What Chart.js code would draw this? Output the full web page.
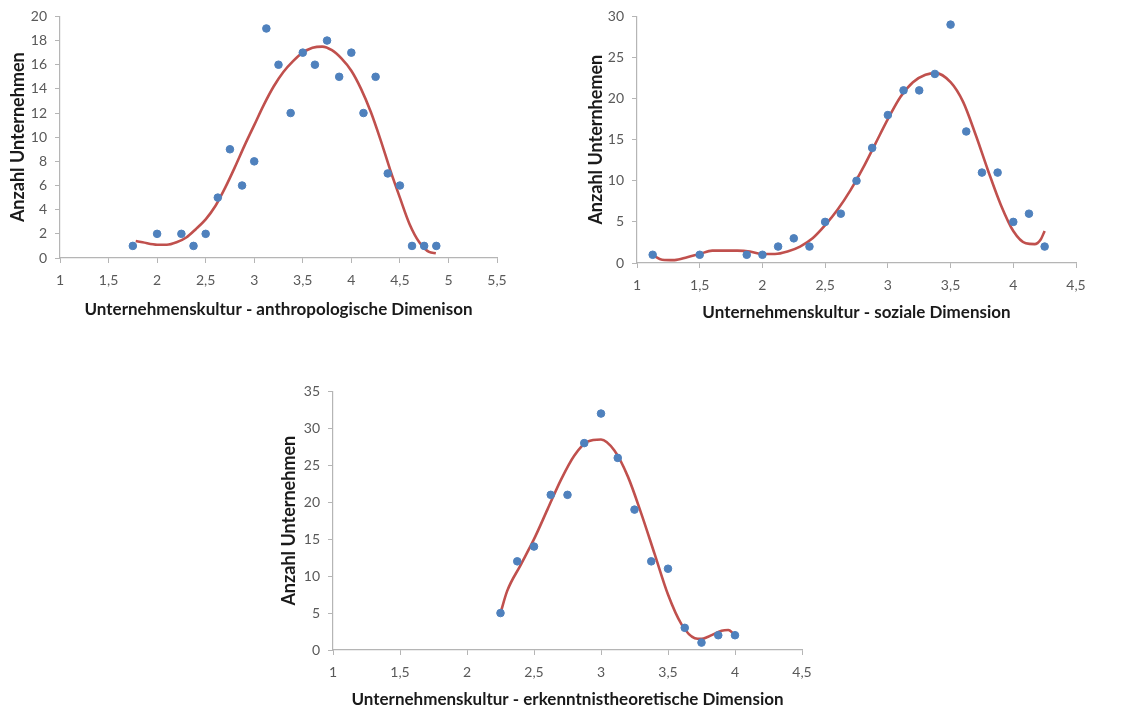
<!DOCTYPE html>
<html>
<head>
<meta charset="utf-8">
<script src="https://cdn.jsdelivr.net/npm/chart.js@4"></script>
<style>
  body { margin: 0; background: #fff; }
  #wrap { position: relative; width: 1130px; height: 711px; overflow: hidden; }
  canvas { position: absolute; }
</style>
</head>
<body>
<div id="wrap">
  <canvas id="c1" width="560" height="325" style="left:0;top:0"></canvas>
  <canvas id="c2" width="560" height="330" style="left:570px;top:0"></canvas>
  <canvas id="c3" width="560" height="336" style="left:270px;top:375px"></canvas>
</div>
<script>
// chart 1 - anthropologische Dimension
const anthroX = [1.75, 2, 2.25, 2.375, 2.5, 2.625, 2.75, 2.875, 3, 3.125, 3.25, 3.375, 3.5, 3.625, 3.75, 3.875, 4, 4.125, 4.25, 4.375, 4.5, 4.625, 4.75, 4.875];
const anthroY = [1, 2, 2, 1, 2, 5, 9, 6, 8, 19, 16, 12, 17, 16, 18, 15, 17, 12, 15, 7, 6, 1, 1, 1];
const anthroTrendX = [1.78, 1.85, 2.0, 2.1, 2.2, 2.3, 2.4, 2.5, 2.6, 2.7, 2.8, 2.9, 3.0, 3.1, 3.2, 3.3, 3.4, 3.5, 3.6, 3.7, 3.8, 3.9, 4.0, 4.1, 4.2, 4.3, 4.4, 4.5, 4.6, 4.7, 4.8, 4.87];
const anthroTrendY = [1.4, 1.3, 1.1, 1.1, 1.3, 1.7, 2.4, 3.2, 4.3, 5.8, 7.5, 9.3, 11.0, 12.7, 14.2, 15.4, 16.3, 17.0, 17.4, 17.5, 17.2, 16.5, 15.5, 14.0, 12.1, 9.8, 7.3, 5.0, 2.8, 1.3, 0.5, 0.4];

// chart 2 - soziale Dimension
const sozialX = [1.125, 1.5, 1.875, 2, 2.125, 2.25, 2.375, 2.5, 2.625, 2.75, 2.875, 3, 3.125, 3.25, 3.375, 3.5, 3.625, 3.75, 3.875, 4, 4.125, 4.25];
const sozialY = [1, 1, 1, 1, 2, 3, 2, 5, 6, 10, 14, 18, 21, 21, 23, 29, 16, 11, 11, 5, 6, 2];
const sozialTrendX = [1.13, 1.2, 1.3, 1.4, 1.5, 1.6, 1.7, 1.8, 1.9, 2.0, 2.1, 2.2, 2.3, 2.4, 2.5, 2.6, 2.7, 2.8, 2.9, 3.0, 3.1, 3.2, 3.3, 3.38, 3.5, 3.6, 3.7, 3.8, 3.9, 4.0, 4.1, 4.17, 4.22, 4.25];
const sozialTrendY = [0.9, 0.4, 0.35, 0.7, 1.1, 1.5, 1.5, 1.5, 1.4, 1.1, 1.1, 1.4, 2.0, 3.0, 4.6, 6.5, 8.8, 11.5, 14.5, 17.5, 20.2, 22.0, 22.9, 23.1, 22.0, 19.6, 15.6, 11.2, 7.1, 3.9, 2.4, 2.3, 2.9, 3.9];

// chart 3 - erkenntnistheoretische Dimension
const erkX = [2.25, 2.375, 2.5, 2.625, 2.75, 2.875, 3, 3.125, 3.25, 3.375, 3.5, 3.625, 3.75, 3.875, 4];
const erkY = [5, 12, 14, 21, 21, 28, 32, 26, 19, 12, 11, 3, 1, 2, 2];
const erkTrendX = [2.25, 2.3, 2.4, 2.5, 2.6, 2.7, 2.8, 2.9, 3.0, 3.1, 3.2, 3.3, 3.4, 3.5, 3.6, 3.7, 3.75, 3.8, 3.9, 3.95, 4.0];
const erkTrendY = [5, 8, 11.5, 15, 19, 23, 26.3, 28.2, 28.5, 27.0, 23.5, 18.5, 13.0, 7.5, 3.5, 1.6, 1.5, 1.8, 2.6, 2.7, 2.0];

const BLUE = '#4f81bd';
const RED = '#c0504d';
const AXIS = '#b5b5b5';
const TICK = '#595959';
const FONT = 'Lato, "Open Sans", sans-serif';

function pts(xs, ys) {
  return xs.map((x, i) => ({ x: x, y: ys[i] }));
}

function makeChart(id, cfg) {
  return new Chart(document.getElementById(id), {
    type: 'scatter',
    data: {
      datasets: [
        {
          data: pts(cfg.x, cfg.y),
          backgroundColor: BLUE,
          borderColor: BLUE,
          pointRadius: 3.8,
          order: 1
        },
        {
          type: 'line',
          data: pts(cfg.tx, cfg.ty),
          borderColor: RED,
          borderWidth: 2.6,
          pointRadius: 0,
          fill: false,
          cubicInterpolationMode: 'monotone',
          order: 2
        }
      ]
    },
    options: {
      responsive: false,
      devicePixelRatio: 1,
      animation: false,
      layout: { padding: cfg.pad },
      plugins: { legend: { display: false }, tooltip: { enabled: false } },
      scales: {
        x: {
          type: 'linear',
          min: cfg.xMin, max: cfg.xMax,
          afterFit: s => { s.height = cfg.xH; },
          ticks: {
            stepSize: 0.5, color: TICK, padding: 9,
            font: { family: FONT, size: 14 },
            callback: v => String(v).replace('.', ',')
          },
          grid: { drawOnChartArea: false, color: AXIS, tickLength: 5 },
          border: { color: AXIS, width: 1.2 },
          title: {
            display: true, text: cfg.xTitle, color: '#1a1a1a',
            font: { family: FONT, size: 17, weight: 'bold' },
            padding: { top: 0, bottom: cfg.xTitlePad }
          }
        },
        y: {
          min: 0, max: cfg.yMax,
          afterFit: s => { s.width = cfg.yW; },
          ticks: {
            stepSize: cfg.yStep, color: TICK, padding: 8,
            font: { family: FONT, size: 14 }
          },
          grid: { drawOnChartArea: false, color: AXIS, tickLength: 5 },
          border: { color: AXIS, width: 1.2 },
          title: {
            display: true, text: cfg.yTitle, color: '#1a1a1a',
            font: { family: FONT, size: 18, weight: 'bold' },
            padding: { top: cfg.yTitlePad, bottom: 0 }
          }
        }
      }
    }
  });
}

makeChart('c1', {
  x: anthroX, y: anthroY, tx: anthroTrendX, ty: anthroTrendY,
  xMin: 1, xMax: 5.5, yMax: 20, yStep: 2,
  pad: { left: 0, top: 13, right: 63, bottom: 0 },
  yW: 60, xH: 67, xTitlePad: 5, yTitlePad: 7,
  xTitle: 'Unternehmenskultur - anthropologische Dimenison',
  yTitle: 'Anzahl Unternehmen'
});

makeChart('c2', {
  x: sozialX, y: sozialY, tx: sozialTrendX, ty: sozialTrendY,
  xMin: 1, xMax: 4.5, yMax: 30, yStep: 5,
  pad: { left: 0, top: 12, right: 54, bottom: 0 },
  yW: 67, xH: 67, xTitlePad: 7, yTitlePad: 15,
  xTitle: 'Unternehmenskultur - soziale Dimension',
  yTitle: 'Anzahl Unternhemen'
});

makeChart('c3', {
  x: erkX, y: erkY, tx: erkTrendX, ty: erkTrendY,
  xMin: 1, xMax: 4.5, yMax: 35, yStep: 5,
  pad: { left: 0, top: 7, right: 28, bottom: 0 },
  yW: 63, xH: 61, xTitlePad: 1, yTitlePad: 8,
  xTitle: 'Unternehmenskultur - erkenntnistheoretische Dimension',
  yTitle: 'Anzahl Unternehmen'
});
</script>
</body>
</html>
